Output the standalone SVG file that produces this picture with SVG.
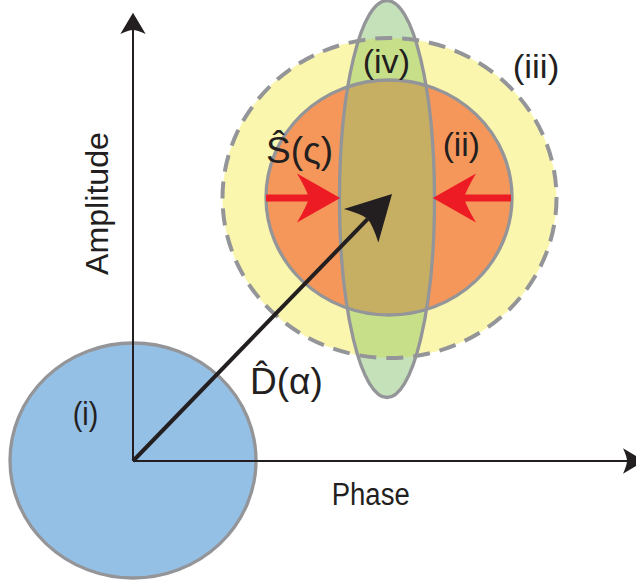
<svg xmlns="http://www.w3.org/2000/svg" width="636" height="587" viewBox="0 0 636 587">
<style>
.lbl{font-family:"Liberation Sans",Arial,sans-serif;fill:#231F20}
.outline{fill:none;stroke:#949598;stroke-width:3.3}
.axis{stroke:#231F20;stroke-width:2;fill:none}
</style>
<defs>
<clipPath id="ellClip"><ellipse cx="387" cy="199" rx="47.5" ry="198.5"/></clipPath>
<marker id="axHead" markerUnits="userSpaceOnUse" orient="auto" markerWidth="40" markerHeight="40" refX="0" refY="0" viewBox="-10 -12 30 24" overflow="visible">
<path d="M13,0 L-3,-9.5 Q0,-3 0,0 Q0,3 -3,9.5 Z" fill="#231F20"/>
</marker>
<marker id="blkHead" markerUnits="userSpaceOnUse" orient="auto" markerWidth="60" markerHeight="60" refX="0" refY="0" viewBox="-10 -25 45 50" overflow="visible">
<path d="M29,0 L-8,-20 Q-1,-7 0,0 Q-1,7 -8,20 Z" fill="#231F20"/>
</marker>
<marker id="redHead" markerUnits="userSpaceOnUse" orient="auto" markerWidth="60" markerHeight="60" refX="0" refY="0" viewBox="-12 -25 45 50" overflow="visible">
<path d="M26,0 L-10,-20.5 Q-2,-7 0,0 Q-2,7 -10,20.5 Z" fill="#ED1C24"/>
</marker>
</defs>

<g id="region-i">
<ellipse cx="133" cy="460.5" rx="123" ry="117.5" fill="#95C0E5" stroke="#949598" stroke-width="3.3"/>
</g>

<g id="region-iii-fill">
<ellipse cx="389.5" cy="198" rx="167" ry="160" fill="#FAF6AE"/>
</g>
<g id="region-ii-fill">
<ellipse cx="389" cy="197.5" rx="123" ry="117.5" fill="#F5975A"/>
</g>
<g id="region-iv-fill">
<ellipse cx="387" cy="199" rx="47.5" ry="198.5" fill="#C4E1B9"/>
<g clip-path="url(#ellClip)">
<ellipse cx="389.5" cy="198" rx="167" ry="160" fill="#C8DF8A"/>
<ellipse cx="389" cy="197.5" rx="123" ry="117.5" fill="#C6AF63"/>
</g>
</g>

<g id="region-iii">
<ellipse cx="389.5" cy="198" rx="167" ry="160" fill="none" stroke="#949598" stroke-width="4" stroke-dasharray="17 10"/>
</g>
<g id="region-ii">
<ellipse class="outline" cx="389" cy="197.5" rx="123" ry="117.5"/>
</g>
<g id="region-iv">
<ellipse class="outline" cx="387" cy="199" rx="47.5" ry="198.5"/>
</g>

<g id="connectors">
<line class="axis" x1="133" y1="461" x2="133" y2="30" marker-end="url(#axHead)"/>
<line class="axis" x1="133" y1="461" x2="627" y2="461" marker-end="url(#axHead)"/>
<line x1="133" y1="461" x2="367.8" y2="218.9" stroke="#231F20" stroke-width="4" marker-end="url(#blkHead)"/>
<line x1="266" y1="198" x2="309" y2="198" stroke="#ED1C24" stroke-width="7" marker-end="url(#redHead)"/>
<line x1="511" y1="198" x2="464" y2="198" stroke="#ED1C24" stroke-width="7" marker-end="url(#redHead)"/>
</g>

<g id="labels">
<text class="lbl" font-size="31" text-anchor="middle" transform="translate(108,203.5) rotate(-90)" textLength="143" lengthAdjust="spacingAndGlyphs">Amplitude</text>
<text class="lbl" x="331.7" y="505" font-size="31" textLength="78" lengthAdjust="spacingAndGlyphs">Phase</text>
<text class="lbl" x="72.7" y="424.7" font-size="33" textLength="25.6" lengthAdjust="spacingAndGlyphs">(i)</text>
<text class="lbl" x="442.7" y="156" font-size="33" textLength="37.3" lengthAdjust="spacingAndGlyphs">(ii)</text>
<text class="lbl" x="512.7" y="78" font-size="33" textLength="46.6" lengthAdjust="spacingAndGlyphs">(iii)</text>
<text class="lbl" x="362.7" y="73" font-size="33" textLength="47.3" lengthAdjust="spacingAndGlyphs">(iv)</text>
<text class="lbl" x="250" y="394" font-size="37">D̂(α)</text>
<text class="lbl" x="266" y="163" font-size="37">Ŝ(ς)</text>
</g>
</svg>
